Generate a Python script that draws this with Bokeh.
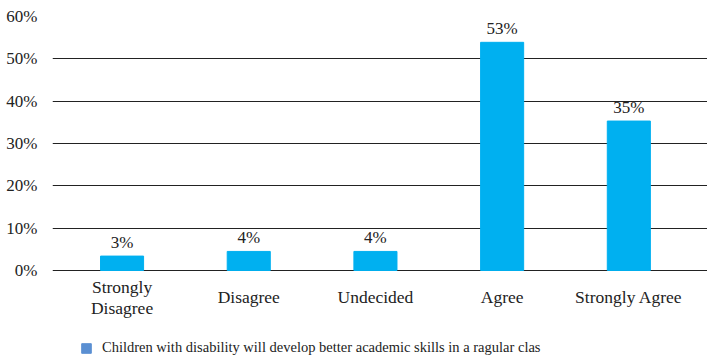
from bokeh.plotting import figure
from bokeh.models import Range1d, FixedTicker, ColumnDataSource, Legend, LegendItem
from bokeh.layouts import column
from bokeh.core.properties import value
from bokeh.embed import file_html
from bokeh.resources import INLINE

categories = ["Strongly\nDisagree", "Disagree", "Undecided", "Agree", "Strongly Agree"]
values = [3.4, 4.5, 4.5, 53.9, 35.3]
value_labels = ["3%", "4%", "4%", "53%", "35%"]
y_ticks = [0, 10, 20, 30, 40, 50, 60]
series_name = "Children with disability will develop better academic skills in a ragular clas"

FONT = "Liberation Serif"
TXT = "#222222"
xs = list(range(len(categories)))
src = ColumnDataSource(dict(x=xs, top=values, lab=value_labels, cat=categories,
                            base=[0] * len(categories)))

# frame extends below 0 so the category labels can be drawn inside it
p = figure(width=707, height=325, output_backend="svg", toolbar_location=None,
           x_range=Range1d(-0.549, 4.621), y_range=Range1d(-13.0, 60),
           min_border_left=52, min_border_right=0, min_border_top=16, min_border_bottom=0)
p.outline_line_color = None
p.background_fill_color = "white"
p.border_fill_color = "white"

p.xgrid.grid_line_color = None
p.ygrid.ticker = FixedTicker(ticks=y_ticks)
p.ygrid.grid_line_color = "#222222"
p.ygrid.grid_line_width = 1

p.vbar(x="x", top="top", width=0.34, bottom=0, source=src, color="#00B0F0")
p.text(x="x", y="top", text="lab", source=src, text_align="center", text_baseline="bottom",
       y_offset=-4, text_font=value(FONT), text_font_size="17px", text_color=TXT)

# category labels, centred 27px under the zero line
p.text(x="x", y="base", text="cat", source=src, text_align="center", text_baseline="middle",
       y_offset=27, text_font=value(FONT), text_font_size="17.5px", text_color=TXT,
       text_line_height=1.09)

p.yaxis.ticker = FixedTicker(ticks=y_ticks)
p.yaxis.major_label_overrides = {t: f"{t}%" for t in y_ticks}
p.yaxis.axis_line_color = None
p.yaxis.major_tick_line_color = None
p.yaxis.minor_tick_line_color = None
p.yaxis.major_label_text_font = FONT
p.yaxis.major_label_text_font_size = "17px"
p.yaxis.major_label_text_color = TXT
p.yaxis.major_label_standoff = 9
p.xaxis.visible = False

# legend strip
p2 = figure(width=707, height=35, output_backend="svg", toolbar_location=None,
            x_range=Range1d(0, 1), y_range=Range1d(0, 1),
            min_border=0, min_border_left=0, min_border_right=0, min_border_top=0, min_border_bottom=0)
p2.axis.visible = False
p2.grid.visible = False
p2.outline_line_color = None
p2.border_fill_color = "white"
p2.background_fill_color = "white"
sw = p2.quad(left=[5], right=[6], top=[5], bottom=[4], color="#5A8FD2")
legend = Legend(items=[LegendItem(label=series_name, renderers=[sw])],
                location=(28, 4), orientation="horizontal",
                label_text_font=FONT, label_text_font_size="14.5px", label_text_color=TXT,
                glyph_width=12, glyph_height=12, border_line_color=None,
                background_fill_alpha=0, padding=0, margin=0, label_standoff=10)
p2.add_layout(legend, "center")

open("out.html", "w").write(file_html(column(p, p2, spacing=0), INLINE))
